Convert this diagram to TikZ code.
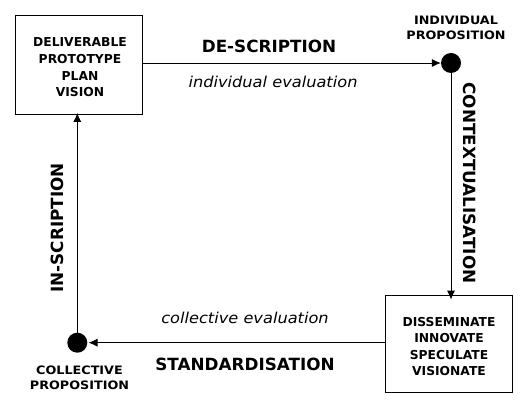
\documentclass[tikz,border=0pt]{standalone}
\usepackage{fontspec}
\setmainfont{DejaVu Sans}
\usetikzlibrary{arrows.meta}
\newcommand\xwide[2]{\scalebox{#1}[1]{#2}}
\begin{document}
\begin{tikzpicture}[x=1pt,y=-1pt,
  boxtext/.style={font=\bfseries\fontsize{12.3}{16.6}\selectfont, align=center, inner sep=0},
  lbl/.style={font=\bfseries\fontsize{11.6}{14.8}\selectfont, align=center, inner sep=0},
  big/.style={font=\bfseries\fontsize{16.8}{18}\selectfont, inner sep=0},
  hand/.style={font=\itshape\fontsize{15}{17}\selectfont, inner sep=0},
  boxn/.style={draw, line width=0.8pt},
  dot/.style={circle, fill=black, minimum size=20pt, inner sep=0},
  conn/.style={line width=0.8pt, -{Latex[length=9pt,width=8pt]}}]
\useasboundingbox (0,0) rectangle (532,411);
\fill[white] (0,0) rectangle (532,411);
% boxes
\node[boxn, minimum width=127.5pt, minimum height=99pt] (tl) at (79,65) {};
\node[boxtext] (tltext) at (80,67.5) {DELIVERABLE\\PROTOTYPE\\PLAN\\VISION};
\node[boxn, minimum width=127.5pt, minimum height=97pt] (br) at (449,343.5) {};
\node[boxtext] (brtext) at (449,346.5) {DISSEMINATE\\INNOVATE\\SPECULATE\\VISIONATE};
% dots
\node[dot] (ip) at (451,63) {};
\node[dot] (cp) at (77.3,342.7) {};
\node[lbl] (iptext) at (456,28) {\xwide{1.1}{INDIVIDUAL}\\\xwide{1.1}{PROPOSITION}};
\node[lbl] (cptext) at (79.5,378) {\xwide{1.1}{COLLECTIVE}\\\xwide{1.1}{PROPOSITION}};
% connectors
\coordinate (rtip) at ([yshift=-5pt]br.north -| ip.south);
\draw[conn] (tl.east |- ip) -- (ip);
\draw[conn] (ip.south) -- (rtip);
\draw[conn] (br.west |- cp) -- ([xshift=1pt]cp.east);
\draw[conn] (cp.north) -- ([yshift=2pt]tl.south -| cp.north);
% labels
\node[big] (des) at (269,46) {DE-SCRIPTION};
\node[hand] (iev) at (273,82) {\xwide{1.08}{individual evaluation}};
\node[big, rotate=-90] (ctx) at (470,183) {CONTEXTUALISATION};
\node[big, rotate=90] (ins) at (57,228) {IN-SCRIPTION};
\node[big] (std) at (245,364) {STANDARDISATION};
\node[hand] (cev) at (245,318) {\xwide{1.08}{collective evaluation}};
\end{tikzpicture}
\end{document}
